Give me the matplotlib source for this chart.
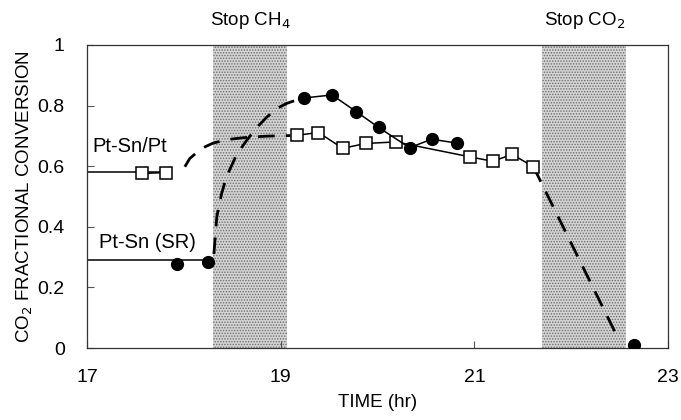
import matplotlib
matplotlib.use("Agg")
import matplotlib.pyplot as plt

plt.rcParams['font.family'] = ['Liberation Sans', 'DejaVu Sans']
plt.rcParams['hatch.linewidth'] = 0.7

# Pt-Sn (SR): filled circles
sr_pre_x = [17.93, 18.25]
sr_pre_y = [0.277, 0.284]
sr_x = [19.24, 19.53, 19.78, 20.01, 20.33, 20.56, 20.82]
sr_y = [0.825, 0.835, 0.78, 0.728, 0.661, 0.689, 0.676]
sr_end_x = [22.65]
sr_end_y = [0.01]
sr_base = 0.29

# Pt-Sn/Pt: open squares
pt_pre_x = [17.57, 17.82]
pt_pre_y = [0.576, 0.579]
pt_x = [19.17, 19.39, 19.64, 19.88, 20.19, 20.95, 21.19, 21.39, 21.61]
pt_y = [0.702, 0.711, 0.659, 0.675, 0.680, 0.631, 0.616, 0.639, 0.598]
pt_base = 0.582

# dashed guide curves
sr_dash_x = [18.31, 18.34, 18.39, 18.44, 18.54, 18.65, 18.76, 18.86, 18.96, 19.06, 19.20]
sr_dash_y = [0.31, 0.433, 0.51, 0.565, 0.635, 0.686, 0.73, 0.763, 0.79, 0.807, 0.822]
pt_dash_x = [18.01, 18.06, 18.14, 18.22, 18.30, 18.45, 18.65, 18.85, 19.10]
pt_dash_y = [0.598, 0.625, 0.647, 0.664, 0.676, 0.688, 0.695, 0.699, 0.701]
co2_dash_x = [21.61, 22.48]
co2_dash_y = [0.598, 0.035]

# shaded intervals
shade_spans = [(18.30, 19.07), (21.70, 22.57)]
shade_labels = ["Stop CH$_4$", "Stop CO$_2$"]

fig = plt.figure(figsize=(6.81, 4.2), dpi=100)
ax = fig.add_axes([0.1278, 0.1714, 0.8532, 0.7216])

for (a, b) in shade_spans:
    ax.axvspan(a, b, ymin=0, ymax=1, facecolor='#d4d4d4', edgecolor='#6e6e6e',
               hatch='......', linewidth=0, zorder=0)
for (a, b), lab in zip(shade_spans, shade_labels):
    ax.text((a + b) / 2, 1.045, lab, ha='center', va='bottom', fontsize=13.5)

# baselines
ax.plot([17, sr_pre_x[-1]], [sr_base, sr_base], color='black', lw=1.1, zorder=2)
ax.plot([17, pt_pre_x[-1]], [pt_base, pt_base], color='black', lw=1.1, zorder=2)

# dashed curves
dash_kw = dict(color='black', lw=2.0, dashes=(6, 4), zorder=2)
ax.plot(sr_dash_x, sr_dash_y, **dash_kw)
ax.plot(pt_dash_x, pt_dash_y, **dash_kw)
ax.plot(co2_dash_x, co2_dash_y, **dash_kw)

circ = dict(marker='o', color='black', markersize=8.5, markerfacecolor='black',
            markeredgecolor='black', lw=1.1, zorder=4)
sq = dict(marker='s', color='black', markersize=8.5, markerfacecolor='white',
          markeredgecolor='black', markeredgewidth=1.1, lw=1.1, zorder=3)

ax.plot(pt_pre_x, pt_pre_y, **sq)
ax.plot(pt_x, pt_y, **sq)
ax.plot(sr_pre_x, sr_pre_y, linestyle='none', **{k: v for k, v in circ.items() if k != 'lw'})
ax.plot(sr_x, sr_y, **circ)
ax.plot(sr_end_x, sr_end_y, linestyle='none', **{k: v for k, v in circ.items() if k != 'lw'})

ax.text(17.06, 0.665, "Pt-Sn/Pt", ha='left', va='center', fontsize=14.5)
ax.text(17.12, 0.347, "Pt-Sn (SR)", ha='left', va='center', fontsize=14.5)

ax.set_xlim(17, 23)
ax.set_ylim(0, 1)
ax.set_xticks([17, 19, 21, 23])
ax.set_yticks([0, 0.2, 0.4, 0.6, 0.8, 1])
ax.set_yticklabels(["0", "0.2", "0.4", "0.6", "0.8", "1"])
ax.tick_params(direction='in', length=5, width=0.8, labelsize=14, color='#555555')
ax.tick_params(axis='x', pad=15)
ax.tick_params(axis='y', pad=16)
for s in ax.spines.values():
    s.set_linewidth(0.9)
    s.set_color('#333333')

ax.set_xlabel("TIME (hr)", fontsize=13.5, labelpad=6)
ax.set_ylabel("CO$_2$ FRACTIONAL CONVERSION", fontsize=13.5, labelpad=2)

fig.savefig("out.png", dpi=100)
